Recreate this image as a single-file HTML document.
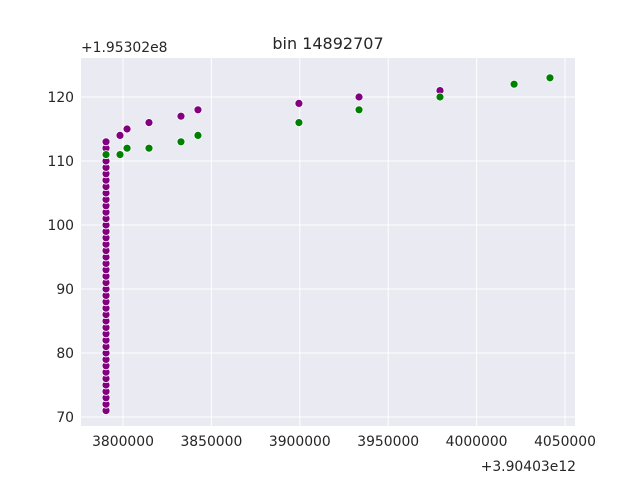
<!DOCTYPE html>
<html><head><meta charset="utf-8"><style>body{margin:0;background:#fff}svg{display:block;font-family:"DejaVu Sans","Liberation Sans",sans-serif}</style></head>
<body>
<svg id="chart" width="640" height="480">
<rect x="81" y="58" width="494" height="368" fill="#eaeaf2"/>
<g id="grid"></g><g id="ticks"></g><g id="marks"></g>
<text x="328" y="49" text-anchor="middle" font-size="16" fill="#262626">bin 14892707</text>
<text x="81" y="52" font-size="13.9" fill="#262626">+1.95302e8</text>
<text x="576" y="471" text-anchor="end" font-size="13.9" fill="#262626">+3.90403e12</text>
</svg>
<script>
const purpleX=[3798300,3802300,3814700,3832800,3842400,3899500,3933500,3979300];
const purpleY=[114,115,116,117,118,119,120,121];
const columnX=3790400;
const columnY=[71,72,73,74,75,76,77,78,79,80,81,82,83,84,85,86,87,88,89,90,91,92,93,94,95,96,97,98,99,100,101,102,103,104,105,106,107,108,109,110,111,112,113];
const greenX=[3790400,3798300,3802300,3814700,3832800,3842400,3899500,3933500,3979300,4021200,4041500];
const greenY=[111,111,112,112,113,114,116,118,120,122,123];
const xTicks=[3800000,3850000,3900000,3950000,4000000,4050000];
const yTicks=[70,80,90,100,110,120];
const xs=v=>123+(v-3800000)*442/250000;
const ys=v=>417-(v-70)*6.4;
const NS="http://www.w3.org/2000/svg";
function mk(t,a,p){const e=document.createElementNS(NS,t);for(const k in a)e.setAttribute(k,a[k]);p.appendChild(e);return e;}
const grid=document.getElementById('grid'),ticks=document.getElementById('ticks'),marks=document.getElementById('marks');
xTicks.forEach(v=>{const x=xs(v);
const l=mk('line',{x1:x,x2:x,y1:58,y2:426,stroke:'#fff','stroke-width':1},grid);


const t=mk('text',{x:x,y:446,'text-anchor':'middle','font-size':13.9,fill:'#262626'},ticks);t.textContent=v;

});
yTicks.forEach(v=>{const y=ys(v);
const l=mk('line',{x1:81,x2:575,y1:y,y2:y,stroke:'#fff','stroke-width':1},grid);


const t=mk('text',{x:74,y:y+5,'text-anchor':'end','font-size':13.9,fill:'#262626'},ticks);t.textContent=v;

});
function pt(x,y,c,n){const e=mk('circle',{cx:xs(x),cy:ys(y),r:4,fill:c,stroke:'#fff','stroke-width':0.8},marks);

}
columnY.forEach(y=>pt(columnX,y,'#800080','purple-point'));
purpleX.forEach((x,i)=>pt(x,purpleY[i],'#800080','purple-point'));
greenX.forEach((x,i)=>pt(x,greenY[i],'#008000','green-point'));
</script>
</body></html>
